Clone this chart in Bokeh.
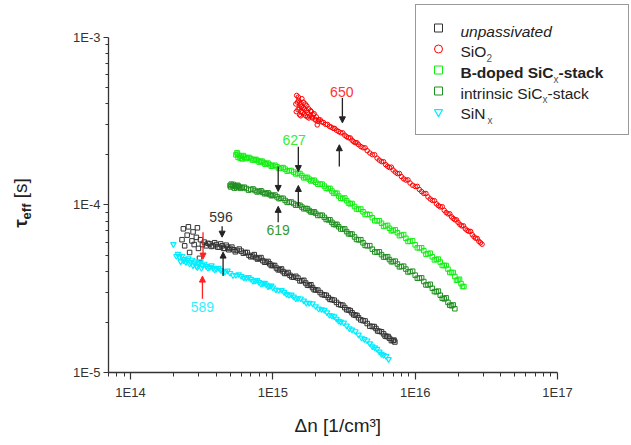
import math
from bokeh.plotting import figure
from bokeh.layouts import row
from bokeh.models import (Label, Arrow, NormalHead, Legend, LegendItem, Title, Div,
                          CustomJSTickFormatter, FixedTicker, Range1d)
from bokeh.embed import file_html
from bokeh.resources import INLINE

# ---------------- data (dn in 1e14 cm^-3, tau in microseconds) ----------------
DN_UNIT = 1e14
TAU_UNIT = 1e-6

unpass_dn = [2.3, 2.35, 2.4, 2.5, 2.55, 2.6, 2.7, 2.75, 2.8, 2.9,
             2.95, 3.0, 3.05, 3.1, 3.2, 3.3, 3.4, 3.5, 3.6, 3.8,
             4.0, 4.2, 4.4, 4.6, 4.8, 5.0, 5.3, 5.6, 6.0, 6.4,
             6.8, 7.2, 7.6, 8.0, 8.5, 9.0, 9.5, 10, 10.6, 11.2,
             11.8, 12.5, 13.2, 14, 15, 16, 17, 18, 19, 20,
             21.5, 23, 24.5, 26, 28, 30, 32, 34, 36, 38,
             40, 43, 46, 50, 53, 56, 60, 63, 66, 70, 72,
             3.7, 3.9, 4.1, 4.3, 4.5, 4.7, 4.9, 5.15, 5.45, 5.8,
             6.2, 6.6, 7.0, 7.4, 7.8, 8.25, 8.75, 9.25, 9.75, 10.3,
             10.9, 11.5, 12.1, 12.8, 13.6, 14.5, 15.5, 16.5, 17.5, 18.5,
             19.5, 20.7, 22.2, 23.7, 25.2, 27, 29, 31, 33, 35,
             37, 39, 41.5, 44.5, 48, 51.5, 54.5, 58, 61.5, 64.5, 68, 71]
unpass_tau = [62, 72, 57, 66, 74, 52, 61, 69, 58, 64,
              73, 55, 48, 62, 58, 60, 57, 59, 58.5, 57,
              58, 56, 57, 55, 56, 55, 54, 53.5, 53, 52,
              50, 49.5, 48.5, 48, 46.5, 45.5, 44.5, 43.5, 42, 41,
              40, 39, 38, 37, 36.6, 35.3, 34.2, 33.1, 32.1, 31.1,
              30, 29, 28, 27.2, 26.2, 25.3, 24.4, 23.6, 22.7, 22,
              21.2, 20.4, 19.6, 18.8, 18.3, 17.6, 17.0, 16.4, 16.0, 15.5, 15.2,
              56.5, 59.5, 56, 58.5, 55, 57.5, 54, 56, 52.5, 54.5,
              51.5, 52, 49, 50.5, 47.5, 48.5, 45.5, 46, 43.5, 43.5,
              41, 41.5, 39, 39.5, 37.2, 37.5, 35.2, 35.5, 33.2, 33.4,
              31.2, 31, 29.2, 28.9, 27.3, 27, 25.5, 25.2, 23.7, 23.4,
              22.1, 21.9, 20.6, 20.3, 18.9, 18.8, 17.7, 17.5, 16.5, 16.4, 15.5, 15.6]

sio2_dn = [14.5, 14.7, 15, 15.2, 15.4, 15.6, 15.8, 16, 16.3, 16.6,
           16.9, 17.2, 17.5, 17.8, 18.2, 18.6, 19, 19.5, 20, 20.5,
           21, 22, 23.5, 25, 26.5, 28, 30, 32, 34, 36,
           38, 40, 43, 46, 50, 54, 58, 62, 66, 70,
           75, 80, 86, 92, 100, 107, 115, 123, 132, 141,
           150, 160, 170, 180, 190, 200, 212, 225, 238, 252,
           266, 280, 295,
           14.6, 14.9, 15.1, 15.3, 15.5, 15.7, 15.9, 16.1, 16.4, 16.7,
           17.0, 17.3, 17.6, 17.9, 18.4, 18.8, 19.2, 19.8, 20.2, 20.8,
           21.5, 22.7, 24.2, 25.7, 27.2, 29, 31, 33, 35, 37,
           39, 41.5, 44.5, 48, 52, 56, 60, 64, 68, 72.5,
           77.5, 83, 89, 96, 103.5, 111, 119, 127.5, 136.5, 145.5,
           155, 165, 175, 185, 195, 206, 218.5, 231.5, 245, 259, 273, 287.5]
sio2_tau = [400, 450, 370, 420, 345, 395, 360, 430, 380, 350,
            400, 365, 335, 375, 340, 360, 330, 350, 320, 300,
            321.7, 313, 302.5, 294.3, 286.4, 278.7, 269.3, 260.3, 251.5, 243.1,
            234.9, 228.6, 219.4, 210.6, 199.4, 190.1, 181.2, 173.9, 167.0, 161.4,
            153.8, 147.6, 140.7, 135.1, 128.8, 123.6, 117.0, 111.6, 106.3, 101.4,
            97.3, 92.8, 88.4, 84.9, 81.5, 78.7, 75.0, 72.0, 69.6, 66.4,
            63.3, 60.7, 58.3,
            360, 410, 440, 380, 410, 340, 385, 355, 410, 375,
            340, 390, 355, 330, 365, 335, 345, 325, 335, 315,
            322, 310, 302, 291, 286, 274, 269, 255, 251, 238,
            235, 223, 219, 204, 199, 185, 181, 170, 168, 157,
            154, 143, 141, 131, 129, 120, 117, 108.5, 106, 99,
            97.5, 90, 88.5, 83, 81.5, 76.5, 75, 70.5, 69.5, 64.5, 63, 59.5]

bdop_dn = [5.5, 5.6, 5.7, 5.8, 6.0, 6.1, 6.3, 6.6, 7.0, 7.4,
           7.8, 8.2, 8.6, 9.0, 9.5, 10, 10.7, 11.4, 12.2, 13,
           14, 15, 16, 17, 18, 19, 20, 21.5, 23, 24.5,
           26, 27.5, 29, 31, 33, 35, 37.5, 40, 43, 46,
           50, 54, 58, 62, 66, 70, 75, 80, 86, 92,
           100, 107, 115, 123, 132, 141, 150, 160, 170, 180,
           190, 200, 210, 220,
           5.65, 5.9, 6.2, 6.45, 6.8, 7.2, 7.6, 8.0, 8.4, 8.8,
           9.25, 9.75, 10.35, 11.05, 11.8, 12.6, 13.5, 14.5, 15.5, 16.5,
           17.5, 18.5, 19.5, 20.7, 22.2, 23.7, 25.2, 26.7, 28.2, 30,
           32, 34, 36, 38.7, 41.5, 44.5, 48, 52, 56, 60,
           64, 68, 72.5, 77.5, 83, 89, 96, 103.5, 111, 119,
           127.5, 136.5, 145.5, 155, 165, 175, 185, 195, 205, 215]
bdop_tau = [199, 205, 192, 197, 195, 188, 193, 191, 189, 186,
            184, 181.5, 179, 176.5, 174, 171.5, 169, 166, 163.5, 160,
            157, 154, 149.7, 145.6, 142.5, 139.5, 136.5, 133, 129.5, 125,
            121, 117, 113, 109, 106, 101.5, 97.8, 94, 91, 88,
            83.8, 80.3, 77.7, 75, 72.5, 70.5, 68.2, 65.9, 63.2, 60.7,
            57.8, 55.4, 53.3, 51.1, 49.0, 47.2, 45.6, 43.5, 41.4, 39.5,
            37.4, 35.6, 33.9, 32.6,
            201, 190, 197, 189, 192, 185, 187, 180, 182.5, 175,
            177.5, 170, 172.5, 165, 167, 159, 160.5, 153, 154, 145,
            146, 139, 140.5, 133, 133, 125.5, 125.5, 117.5, 117.5, 109.5,
            110, 102.5, 102, 94.5, 94.5, 87.5, 87.5, 80.5, 80.5, 74.5,
            75.5, 70, 71, 65.5, 66.5, 60.5, 61, 55.5, 55.5, 50.8,
            51.5, 47, 47.5, 43.5, 43.5, 39.5, 39.5, 35.5, 36, 32.6]

intr_dn = [5.0, 5.1, 5.2, 5.35, 5.5, 5.65, 5.8, 6.1, 6.5, 7.0,
           7.5, 8.0, 8.5, 9.0, 9.5, 10, 10.7, 11.4, 12.2, 13,
           14, 15, 16, 17, 18, 19, 20, 21.5, 23, 24.5,
           26, 27.5, 29, 31, 33, 35, 37.5, 40, 43, 46,
           50, 54, 58, 62, 66, 70, 75, 80, 86, 92,
           100, 107, 115, 123, 132, 141, 150, 160, 170, 180, 190,
           5.05, 5.27, 5.42, 5.57, 5.72, 5.95, 6.3, 6.75, 7.25, 7.75,
           8.25, 8.75, 9.25, 9.75, 10.35, 11.05, 11.8, 12.6, 13.5, 14.5,
           15.5, 16.5, 17.5, 18.5, 19.5, 20.7, 22.2, 23.7, 25.2, 26.7,
           28.2, 30, 32, 34, 36, 38.7, 41.5, 44.5, 48, 52,
           56, 60, 64, 68, 72.5, 77.5, 83, 89, 96, 103.5,
           111, 119, 127.5, 136.5, 145.5, 155, 165, 175, 185]
intr_tau = [130.6, 133, 129.7, 126, 128.8, 131, 128, 127, 125.3, 123.6,
            121.9, 120.2, 118.7, 117.0, 115.4, 113.9, 111.6, 109.4, 106.3, 104.0,
            101.9, 99.8, 97.1, 95.2, 92.6, 90.7, 89.0, 86.6, 84.3, 81.5,
            78.7, 76.2, 74.1, 71.7, 69.3, 67.1, 64.4, 61.9, 59.4, 57.0,
            54.4, 52.2, 50.5, 48.8, 47.2, 45.9, 44.4, 42.9, 41.4, 40.0,
            38.1, 36.6, 34.9, 33.3, 31.8, 30.3, 28.9, 27.5, 26.2, 25.0, 24.0,
            128, 132.5, 130, 126.5, 129.5, 125.5, 127.5, 122.5, 124.5, 119.5,
            121.5, 116.5, 118, 113.5, 114.5, 109, 109.5, 103.5, 104, 99.5,
            99.5, 94.8, 95, 90.8, 91, 86.5, 86.8, 81.8, 81.5, 76.5,
            76.6, 71.8, 71.9, 67.2, 67, 62.2, 62, 57.3, 57.1, 52.4,
            52.5, 48.8, 49.1, 45.8, 46.2, 42.7, 43.1, 39.8, 40.2, 36.5,
            36.7, 33.3, 33.6, 30.4, 30.6, 27.7, 27.9, 25.2, 25.3]

sin_dn = [2.0, 2.1, 2.2, 2.25, 2.3, 2.4, 2.45, 2.5, 2.6, 2.7,
          2.8, 2.9, 3.0, 3.1, 3.2, 3.4, 3.6, 3.8, 4.0, 4.3,
          4.6, 5.0, 5.5, 6.0, 6.5, 7.0, 7.5, 8, 8.5, 9,
          9.5, 10, 11, 12, 13, 14, 15, 16.5, 18, 20,
          22, 24, 26, 28, 30, 33, 36, 40, 44, 48,
          52, 56, 60, 65,
          2.15, 2.35, 2.55, 2.65, 2.75, 2.85, 2.95, 3.05, 3.15, 3.3,
          3.5, 3.7, 3.9, 4.15, 4.45, 4.8, 5.25, 5.75, 6.25, 6.75,
          7.25, 7.75, 8.25, 8.75, 9.25, 9.75, 10.5, 11.5, 12.5, 13.5,
          14.5, 15.7, 17.2, 19, 21, 23, 25, 27, 29, 31.5,
          34.5, 38, 42, 46, 50, 54, 58, 62.5]
sin_tau = [58.3, 49.5, 48.8, 46, 49.5, 47.5, 45.5, 46.8, 44.5, 47,
           45.2, 43, 44.6, 46, 43.7, 43.1, 42.5, 41.9, 41.4, 40.8,
           39.9, 39.2, 38.1, 37.6, 36.8, 36.1, 35.3, 34.6, 33.9, 33.4,
           32.8, 32.1, 31.0, 30.1, 29.0, 28.3, 27.7, 26.8, 26.0, 24.8,
           23.8, 22.8, 21.8, 20.9, 20.1, 19.0, 18.0, 16.8, 15.8, 14.9,
           14.1, 13.3, 12.7, 12.0,
           51, 46.5, 48, 45.5, 43.5, 46, 42.5, 45, 42, 44.5,
           42, 43.5, 41, 42, 40, 40.5, 38, 38.5, 36.8, 37,
           35.2, 35.5, 33.8, 34.2, 32.6, 33, 31.2, 31, 29.3, 29.1,
           27.6, 27.6, 26, 25.8, 24, 23.6, 22, 21.6, 20.3, 19.8,
           18.3, 17.6, 16.1, 15.5, 14.3, 13.8, 12.9, 12.5]

# annotations: (text, dn, tau, colour)
ann_labels = [("650", 30.5, 471.6, "#ff3333"),
              ("627", 14.1, 244.7, "#33ee33"),
              ("619", 10.9, 70.6, "#339933"),
              ("596", 4.32, 84.3, "#333333"),
              ("589", 3.20, 24.6, "#33eeff")]
# arrows: (dn_start, tau_start, dn_end, tau_end, colour)
ann_arrows = [(30.8, 434.5, 30.8, 308.7, "#222222"),
              (29.3, 169.3, 29.3, 228.6, "#222222"),
              (15.1, 222.5, 15.1, 158.0, "#222222"),
              (15.1, 98.0, 15.1, 130.6, "#222222"),
              (10.9, 169.3, 10.9, 120.3, "#222222"),
              (10.9, 78.7, 10.9, 98.0, "#222222"),
              (4.40, 74.6, 4.40, 64.2, "#222222"),
              (4.47, 37.6, 4.47, 52.3, "#222222"),
              (3.23, 68.7, 3.23, 47.5, "#ff2222"),
              (3.20, 27.5, 3.20, 37.6, "#ff2222")]

x_major = [1e14, 1e15, 1e16, 1e17]
y_major = [1e-5, 1e-4, 1e-3]

FONT = "Liberation Sans"

# ---------------- layout geometry (canvas pixels) ----------------
LEFT_W = 50                  # width of the y-title strip
W, H = 631, 445
FL, FR, FT, FB = 108, 631, 0, 374       # main frame edges in page pixels
AX_X0, AX_X1 = 7e13, 1e17    # drawn x-axis extent  (px 108 .. 557)
AX_Y0, AX_Y1 = 1e-5, 1e-3    # drawn y-axis extent  (px 374 .. 37)
PX_X1, PX_Y1 = 557, 37

lx0, lx1 = math.log10(AX_X0), math.log10(AX_X1)
ly0, ly1 = math.log10(AX_Y0), math.log10(AX_Y1)
xdec = (PX_X1 - FL) / (lx1 - lx0)
ydec = (FB - PX_Y1) / (ly1 - ly0)
x_end = 10 ** (lx1 + (FR - PX_X1) / xdec)
y_end = 10 ** (ly1 + (PX_Y1 - FT) / ydec)


def px2x(px):
    return 10 ** (lx0 + (px - FL) / xdec)


def py2y(py):
    return 10 ** (ly0 + (FB - py) / ydec)


# ---------------- main figure ----------------
p = figure(width=W - LEFT_W, height=H, x_axis_type="log", y_axis_type="log",
           x_range=Range1d(AX_X0, x_end), y_range=Range1d(AX_Y0, y_end),
           output_backend="svg", toolbar_location=None,
           min_border_left=FL - LEFT_W, min_border_right=0,
           min_border_top=0, min_border_bottom=H - FB)
p.outline_line_color = None
p.xgrid.visible = False
p.ygrid.visible = False
p.background_fill_color = "white"
p.border_fill_color = "white"

x_minor = [m * 10.0 ** k for k in range(13, 17) for m in range(2, 10)]
y_minor = [m * 10.0 ** k for k in range(-6, -3) for m in range(2, 10)]
p.xaxis.ticker = FixedTicker(ticks=x_major, minor_ticks=x_minor)
p.yaxis.ticker = FixedTicker(ticks=y_major, minor_ticks=y_minor)
p.xaxis.bounds = (AX_X0, AX_X1)
p.yaxis.bounds = (AX_Y0, AX_Y1)
fmt = CustomJSTickFormatter(code="return '1E' + Math.round(Math.log10(tick));")
p.xaxis.formatter = fmt
p.yaxis.formatter = fmt

for ax in (p.xaxis, p.yaxis):
    ax.axis_line_color = "#333333"
    ax.axis_line_width = 1.3
    ax.major_tick_line_color = "#333333"
    ax.minor_tick_line_color = "#333333"
    ax.major_tick_line_width = 1.2
    ax.minor_tick_line_width = 1.0
    ax.major_tick_in = 0
    ax.minor_tick_in = 0
    ax.major_label_text_font = FONT
    ax.major_label_text_font_size = "13px"
    ax.major_label_text_color = "#333333"

p.xaxis.major_tick_out = 7
p.xaxis.minor_tick_out = 4
p.xaxis.major_label_standoff = 5
p.yaxis.major_tick_out = 5
p.yaxis.minor_tick_out = 3
p.yaxis.major_label_standoff = 3

# x-axis title, positioned along the drawn axis like the reference
p.add_layout(Title(text="\u0394n [1/cm\u00b3]", align="left", offset=294 - FL,
                   standoff=20, text_font=FONT, text_font_size="19px",
                   text_font_style="normal", text_color="#222222"), "below")


def scale(vals, unit):
    return [v * unit for v in vals]


MS = 4.5
r_unp = p.scatter(scale(unpass_dn, DN_UNIT), scale(unpass_tau, TAU_UNIT), marker="square",
                  size=MS, fill_color=None, line_color="#333333", line_width=1)
r_sio = p.scatter(scale(sio2_dn, DN_UNIT), scale(sio2_tau, TAU_UNIT), marker="circle",
                  size=MS, fill_color=None, line_color="#ff0000", line_width=1)
r_bd = p.scatter(scale(bdop_dn, DN_UNIT), scale(bdop_tau, TAU_UNIT), marker="square",
                 size=MS, fill_color=None, line_color="#11ee11", line_width=1)
r_in = p.scatter(scale(intr_dn, DN_UNIT), scale(intr_tau, TAU_UNIT), marker="square",
                 size=MS, fill_color=None, line_color="#1f8f1f", line_width=1)
r_sin = p.scatter(scale(sin_dn, DN_UNIT), scale(sin_tau, TAU_UNIT), marker="inverted_triangle",
                  size=MS + 1, fill_color=None, line_color="#00eeff", line_width=1.2)

# annotation labels and arrows
for txt, dn, tau, col in ann_labels:
    p.add_layout(Label(x=dn * DN_UNIT, y=tau * TAU_UNIT, text=txt, text_color=col,
                       text_font=FONT, text_font_size="14px",
                       text_align="center", text_baseline="middle"))
for x0, y0, x1, y1, col in ann_arrows:
    p.add_layout(Arrow(x_start=x0 * DN_UNIT, y_start=y0 * TAU_UNIT,
                       x_end=x1 * DN_UNIT, y_end=y1 * TAU_UNIT,
                       line_color=col, line_width=1.3,
                       end=NormalHead(size=6, fill_color=col, line_color=col)))

# legend box + markers (texts drawn as labels for mixed styling)
legend = Legend(items=[LegendItem(label=" ", renderers=[r]) for r in
                       (r_unp, r_sio, r_bd, r_in, r_sin)],
                location=(415 - FL, FB - 137), padding=12, spacing=0,
                glyph_width=20, glyph_height=21, label_height=21,
                label_width=168, label_standoff=0,
                border_line_color="#333333", border_line_width=1.5,
                background_fill_alpha=0.0,
                label_text_font_size="1px")
p.add_layout(legend, "center")


def dlabel(text, cx, cy, size, style="normal", color="#222222"):
    p.add_layout(Label(x=px2x(cx), y=py2y(cy), text=text, text_font=FONT,
                       text_font_size=size, text_font_style=style,
                       text_color=color, text_align="left",
                       text_baseline="middle"))


dlabel("unpassivated", 460, 31, "15.5px", "italic")
dlabel("SiO", 460, 51, "15.5px")
dlabel("2", 486, 58, "10px", color="#555555")
dlabel("B-doped SiC", 460, 72, "15.5px", "bold")
dlabel("x", 553, 79, "10px", color="#555555")
dlabel("-stack", 558, 72, "15.5px", "bold")
dlabel("intrinsic SiC", 460, 93, "15.5px")
dlabel("x", 542, 100, "10px", color="#555555")
dlabel("-stack", 547, 93, "15.5px")
dlabel("SiN", 460, 114, "15.5px")
dlabel("x", 487, 121, "10px", color="#555555")

# ---------------- y-title strip (HTML text rotated with CSS) ----------------
ytitle_html = (
    '<div style="position:absolute; left:22px; top:203px; '
    'transform:translate(-50%,-50%) rotate(-90deg); white-space:nowrap; '
    "font-family:'Liberation Sans',Arial,sans-serif; font-size:19px; line-height:1; "
    'color:#222222;">'
    '<b>\u03c4</b><sub style="font-size:13px; font-weight:bold; vertical-align:-4px;">eff</sub>'
    '&nbsp;[s]</div>'
)
ytitle = Div(text=ytitle_html, width=LEFT_W, height=H, margin=0,
             styles={"position": "relative", "overflow": "visible"})

layout = row(ytitle, p, spacing=0)
open("out.html", "w").write(file_html(layout, INLINE))
